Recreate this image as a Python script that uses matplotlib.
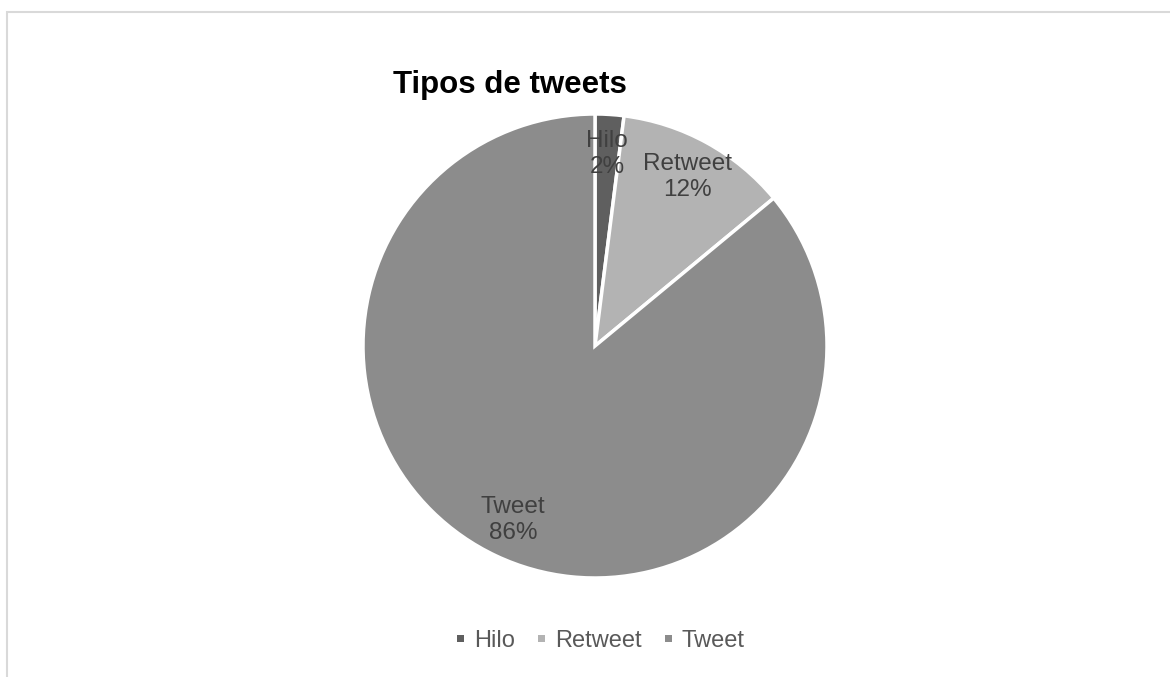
import matplotlib
matplotlib.use("Agg")
import matplotlib.pyplot as plt
from matplotlib.patches import Rectangle, Patch

plt.rcParams["font.family"] = ["Liberation Sans", "DejaVu Sans"]

labels = ["Hilo", "Retweet", "Tweet"]
shares = [2, 12, 86]
colors = ["#5f5f5f", "#b3b3b3", "#8c8c8c"]

fig = plt.figure(figsize=(11.7, 6.77), dpi=100)

# light frame around the chart area, running off the right and bottom edges
fig.patches.append(Rectangle((7 / 1170, -0.05), 1.1, 1 - 12 / 677 + 0.05,
                             transform=fig.transFigure, fill=False,
                             edgecolor="#d9d9d9", linewidth=1.5))

# pie: centre (595, 346) px, radius ~232 px
r_px = 232
ax = fig.add_axes([(595 - r_px) / 1170, (677 - 346 - r_px) / 677,
                   2 * r_px / 1170, 2 * r_px / 677])
wedges, texts = ax.pie(shares, colors=colors, startangle=90, counterclock=False,
                       labels=[f"{l}\n{s}%" for l, s in zip(labels, shares)],
                       labeldistance=0.83,
                       wedgeprops=dict(edgecolor="white", linewidth=2.5),
                       textprops=dict(fontsize=17.5, color="#404040",
                                      ha="center", va="center", linespacing=1.25))
for t in texts:
    t.set_horizontalalignment("center")
ax.set_xlim(-1.0, 1.0)
ax.set_ylim(-1.0, 1.0)
ax.set_aspect("equal")

fig.text(510 / 1170, 1 - 85 / 677, "Tipos de tweets", ha="center", va="center",
         fontsize=22.5, fontweight="bold", color="black")

# small square swatches
handles = [Patch(facecolor=c, edgecolor="none") for c in colors]
fig.legend(handles, labels, loc="center", bbox_to_anchor=(601 / 1170, 1 - 641 / 677),
           ncol=3, frameon=False, fontsize=17, labelcolor="#595959",
           handlelength=0.3, handleheight=0.075, handletextpad=0.4,
           columnspacing=1.0)

fig.savefig("out.png", dpi=100)
